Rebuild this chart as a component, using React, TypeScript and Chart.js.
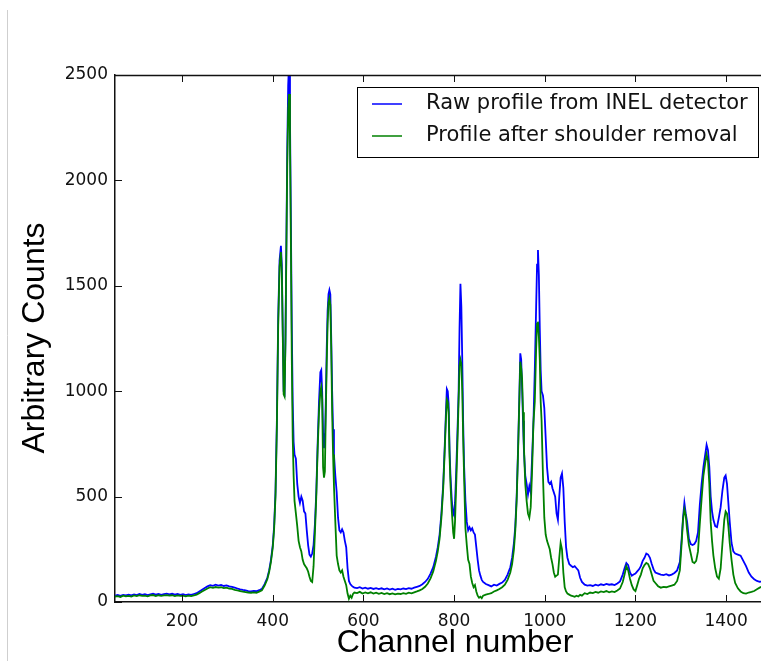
import { useEffect, useRef } from "react";
import { Chart, registerables } from "chart.js";

Chart.register(...registerables);

// Channel numbers (x) shared by both series
const channels = [
  // flat baseline
  52, 58, 64, 70, 76, 82, 88, 94, 100, 106, 112, 118, 124, 130, 136, 142, 148, 154, 160, 166,
  172, 178, 184, 190, 196, 202, 208, 214, 220, 226,
  // small bump
  232, 238, 244, 250, 256, 262, 268, 274, 280, 286, 292, 298, 304, 310, 316, 322, 328, 334, 340, 346,
  352, 358, 364, 370, 376,
  // first peak group
  382, 388, 392, 396, 400, 403, 406, 409, 412, 415, 418, 420, 422, 424, 426, 428, 430, 432, 434, 436,
  438, 440, 442, 444, 446, 448, 451, 454, 457, 460, 463, 466, 469, 472, 475, 478, 481, 484, 487, 490,
  493, 496, 499, 502, 505, 507, 509, 511, 513, 515, 517, 519, 521, 523, 525, 527, 529, 531, 533, 535,
  538, 541, 544, 547, 550, 553, 556, 559, 562, 565, 568, 571, 574, 577, 580,
  // valley
  586, 592, 598, 604, 610, 616, 622, 628, 634, 640, 646, 652, 658, 664, 670, 676, 682, 688, 694, 700,
  706, 712,
  // second group
  718, 724, 730, 736, 742, 748, 754, 760, 764, 768, 772, 776, 779, 782, 784, 786, 788, 790, 792, 795,
  798, 800, 802, 805, 808, 810, 812, 814, 816, 818, 820, 822, 825, 828, 831, 834, 837, 840, 843, 846,
  849, 852, 855, 858, 861, 864,
  // third group
  870, 876, 882, 888, 894, 900, 906, 912, 918, 924, 928, 932, 935, 938, 941, 944, 946, 948, 950, 952,
  954, 957, 960, 963, 966, 969, 972, 975, 978, 981, 983, 985, 987, 989, 991, 993, 996, 999, 1002, 1005,
  1008, 1011, 1014, 1017, 1020, 1023, 1026, 1029, 1032, 1035, 1038, 1041, 1044, 1047, 1050, 1054, 1058, 1062, 1066, 1070,
  1074, 1078, 1082,
  // valley
  1088, 1094, 1100, 1106, 1112, 1118, 1124, 1130, 1136, 1142, 1148, 1154, 1160, 1166,
  // small peaks
  1172, 1176, 1180, 1184, 1188, 1192, 1196, 1200, 1204, 1208, 1212, 1216, 1220, 1224, 1228, 1232, 1236, 1240, 1244, 1250,
  1256, 1262, 1268, 1274, 1280, 1286, 1292, 1298,
  // last group
  1302, 1305, 1308, 1311, 1314, 1318, 1322, 1326, 1330, 1334, 1338, 1342, 1346, 1350, 1354, 1357, 1360, 1363, 1366, 1369,
  1372, 1376, 1380, 1384, 1388, 1392, 1396, 1399, 1402, 1405, 1408, 1412, 1416, 1420, 1426, 1432, 1438, 1444, 1450, 1456,
  1462, 1468, 1474, 1480,
];

// Raw profile from INEL detector (blue)
const rawCounts = [
  30, 33, 29, 34, 31, 35, 32, 36, 33, 38, 34, 37, 33, 36, 39, 35, 38, 34, 37, 40,
  36, 39, 35, 38, 34, 37, 33, 36, 34, 38,
  42, 50, 58, 66, 74, 80, 77, 82, 78, 81, 76, 79, 74, 72, 68, 64, 60, 57, 55, 52,
  50, 53, 51, 56, 62,
  85, 115, 150, 200, 270, 360, 520, 850, 1350, 1620, 1690, 1600, 1300, 1000, 990, 1250, 1700, 2150, 2450, 2560,
  2300, 1800, 1300, 950, 760, 700, 680, 560, 500, 470, 500, 480, 430, 420, 340, 270, 225, 215, 230, 270,
  370, 520, 750, 950, 1090, 1100, 1000, 800, 730, 760, 950, 1200, 1380, 1460, 1480, 1460, 1250, 1000, 820, 700,
  600, 520, 400, 340, 330, 345, 330, 290, 260, 160, 100, 85, 78, 72, 68,
  66, 70, 64, 68, 63, 67, 62, 66, 61, 65, 60, 64, 59, 63, 58, 62, 60, 64, 61, 66,
  63, 68,
  72, 76, 84, 95, 110, 135, 165, 215, 260, 320, 420, 560, 720, 900, 1010, 1000, 940, 720, 600, 480,
  420, 410, 470, 640, 850, 1000, 1300, 1510, 1400, 1150, 850, 650, 480, 380, 340, 355, 340, 350, 330, 320,
  260, 200, 150, 125, 105, 95,
  85, 80, 74, 82, 78, 86, 92, 105, 130, 165, 210, 280, 360, 500, 720, 980, 1180, 1150, 1020, 860,
  720, 600, 560, 510, 550, 520, 680, 850, 1100, 1400, 1600, 1670, 1550, 1300, 1100, 1000, 980, 920, 780, 640,
  570, 560, 570, 540, 520, 500, 420, 390, 500, 590, 610, 540, 380, 260, 210, 180, 172, 165, 170, 160,
  150, 115, 95,
  82, 78, 80, 76, 82, 78, 84, 80, 86, 82, 84, 80, 88, 98,
  130, 160, 185, 175, 140, 125, 130, 135, 145, 155, 170, 195, 210, 230, 225, 210, 180, 155, 140, 135,
  130, 128, 132, 126, 130, 138, 150, 190,
  300, 400, 470, 420, 380, 300, 275, 270, 275, 290, 330, 460, 560, 640, 700, 745, 720, 640, 500, 430,
  390, 360, 355, 400, 450, 530, 590, 600, 560, 470, 380, 280, 240, 230, 225, 220, 195, 170, 140, 120,
  108, 100, 96, 98,
];

// Profile after shoulder removal (green)
const shoulderRemovedCounts = [
  26, 28, 24, 30, 27, 29, 26, 31, 28, 32, 29, 30, 27, 31, 33, 28, 32, 29, 31, 33,
  30, 32, 28, 31, 29, 30, 27, 30, 28, 31,
  35, 42, 50, 57, 64, 70, 67, 71, 68, 70, 66, 68, 64, 62, 58, 55, 52, 49, 47, 45,
  44, 46, 44, 49, 55,
  78, 108, 142, 190, 258, 345, 500, 820, 1310, 1590, 1660, 1560, 1270, 985, 975, 1230, 1660, 2080, 2330, 2410,
  2200, 1700, 1150, 780, 600, 480, 420, 360, 290, 260, 240, 200, 180, 170, 160, 145, 120, 100, 95, 170,
  330, 500, 720, 900, 1000, 1020, 960, 640, 590, 620, 900, 1130, 1320, 1420, 1440, 1410, 1200, 900, 700, 550,
  380, 220, 180, 150, 140, 150, 120, 100, 80, 40, 15, 30, 20, 38, 45,
  42, 48, 40, 45, 41, 46, 40, 44, 39, 43, 38, 42, 37, 41, 36, 40, 38, 42, 39, 44,
  41, 46,
  50, 55, 62, 72, 88, 112, 145, 195, 240, 300, 400, 540, 700, 870, 960, 950, 900, 690, 560, 430,
  330, 300, 380, 580, 800, 960, 1120, 1150, 1130, 1000, 780, 600, 350, 270, 200, 180, 120, 90, 70, 80,
  50, 30, 20, 25, 18, 30,
  35, 38, 42, 50, 55, 62, 70, 82, 105, 140, 180, 250, 340, 480, 700, 960, 1140, 1110, 1060, 900,
  740, 560, 480, 420, 400, 450, 620, 850, 950, 1200, 1320, 1330, 1260, 1150, 950, 860, 600, 400, 320, 290,
  270, 250, 210, 180, 140, 120, 125, 130, 210, 280, 250, 140, 70, 50, 40, 35, 30, 28, 25, 30,
  26, 34, 30,
  42, 38, 45, 42, 48, 44, 50, 47, 52, 46, 50, 47, 55, 64,
  95, 130, 170, 150, 110, 80, 60, 52, 80, 110, 130, 160, 175, 185, 180, 160, 130, 100, 90, 75,
  68, 72, 70, 74, 78, 82, 100, 150,
  280, 390, 440, 410, 340, 270, 230, 190, 185, 195, 240, 370, 490, 600, 660, 700, 670, 560, 380, 290,
  220, 160, 120, 110, 160, 280, 390, 430, 420, 360, 280, 200, 130, 90, 65, 50, 42, 40, 45, 48,
  52, 60, 68, 74,
];

const xTicks = [200, 400, 600, 800, 1000, 1200, 1400];
const yTicks = [0, 500, 1000, 1500, 2000, 2500];
const seriesLabels = ["Raw profile from INEL detector", "Profile after shoulder removal"];
const seriesColors = ["#0000ff", "#008000"];
const xTitle = "Channel number";
const yTitle = "Arbitrary Counts";

export default function App() {
  const ref = useRef<HTMLCanvasElement | null>(null);

  useEffect(() => {
    document.body.style.margin = "0";
    document.body.style.overflow = "hidden";
    const canvas = ref.current;
    if (!canvas) return;

    const decor = {
      id: "decor",
      afterDraw(chart: any) {
        const ctx = chart.ctx as CanvasRenderingContext2D;
        const { left, right, top, bottom } = chart.chartArea;
        const xs = chart.scales.x;
        const ys = chart.scales.y;
        ctx.save();

        // page edge line
        ctx.strokeStyle = "#cfcfcf";
        ctx.lineWidth = 1;
        ctx.beginPath();
        ctx.moveTo(7.5, 10);
        ctx.lineTo(7.5, 661);
        ctx.stroke();

        // top spine
        ctx.strokeStyle = "#111";
        ctx.lineWidth = 1.5;
        ctx.beginPath();
        ctx.moveTo(left, Math.round(top) + 0.5);
        ctx.lineTo(right, Math.round(top) + 0.5);
        ctx.stroke();

        // inward ticks
        const tl = 7;
        ctx.lineWidth = 1;
        ctx.beginPath();
        xTicks.forEach((v) => {
          const px = Math.round(xs.getPixelForValue(v)) + 0.5;
          ctx.moveTo(px, bottom);
          ctx.lineTo(px, bottom - tl);
          ctx.moveTo(px, top);
          ctx.lineTo(px, top + tl);
        });
        yTicks.forEach((v) => {
          const py = Math.round(ys.getPixelForValue(v)) + 0.5;
          ctx.moveTo(left, py);
          ctx.lineTo(left + tl, py);
        });
        ctx.stroke();

        // axis titles
        ctx.fillStyle = "#000";
        ctx.font = "32px 'Liberation Sans', Arial, sans-serif";
        ctx.textAlign = "center";
        ctx.textBaseline = "alphabetic";
        ctx.fillText(xTitle, 455, 652);
        ctx.save();
        ctx.translate(44, 338);
        ctx.rotate(-Math.PI / 2);
        ctx.fillText(yTitle, 0, 0);
        ctx.restore();

        // legend
        const bx = 357.5, by = 87.5, bw = 401, bh = 70;
        ctx.fillStyle = "#fff";
        ctx.fillRect(bx, by, bw, bh);
        ctx.strokeStyle = "#000";
        ctx.lineWidth = 1;
        ctx.strokeRect(bx, by, bw, bh);
        const rows = [104, 136];
        ctx.font = "21px 'DejaVu Sans', sans-serif";
        ctx.textAlign = "left";
        ctx.textBaseline = "middle";
        rows.forEach((ry, i) => {
          ctx.strokeStyle = seriesColors[i];
          ctx.lineWidth = 1.5;
          ctx.beginPath();
          ctx.moveTo(372, ry);
          ctx.lineTo(402, ry);
          ctx.stroke();
          ctx.fillStyle = "#111";
          ctx.fillText(seriesLabels[i], 426, ry);
        });
        ctx.restore();
      },
    };

    const tickFont = { family: "'DejaVu Sans', sans-serif", size: 17 };
    const plain = (v: any) => String(v);

    const chart = new Chart(canvas, {
      type: "line",
      data: {
        datasets: [
          {
            label: seriesLabels[0],
            data: channels.map((c, i) => ({ x: c, y: rawCounts[i] })),
            borderColor: seriesColors[0],
            borderWidth: 1.8,
            pointRadius: 0,
            tension: 0,
            fill: false,
            order: 2,
          },
          {
            label: seriesLabels[1],
            data: channels.map((c, i) => ({ x: c, y: shoulderRemovedCounts[i] })),
            borderColor: seriesColors[1],
            borderWidth: 1.8,
            pointRadius: 0,
            tension: 0,
            fill: false,
            order: 1,
          },
        ],
      },
      options: {
        responsive: false,
        animation: false,
        devicePixelRatio: 1,
        events: [],
        layout: { padding: { top: 75, left: 0, right: 0, bottom: 0 } },
        plugins: {
          legend: { display: false },
          tooltip: { enabled: false },
        },
        scales: {
          x: {
            type: "linear",
            min: 52,
            max: 1477,
            afterBuildTicks: (s: any) => {
              s.ticks = xTicks.map((v) => ({ value: v }));
            },
            afterFit: (s: any) => {
              s.height = 59;
            },
            grid: { display: false, drawTicks: false },
            border: { display: true, color: "#111", width: 1.5 },
            ticks: {
              font: tickFont,
              color: "#111",
              padding: 9,
              maxRotation: 0,
              autoSkip: false,
              callback: plain,
            },
          },
          y: {
            type: "linear",
            min: 0,
            max: 2500,
            afterBuildTicks: (s: any) => {
              s.ticks = yTicks.map((v) => ({ value: v }));
            },
            afterFit: (s: any) => {
              s.width = 115;
            },
            grid: { display: false, drawTicks: false },
            border: { display: true, color: "#111", width: 1.5 },
            ticks: {
              font: tickFont,
              color: "#111",
              padding: 7,
              autoSkip: false,
              callback: plain,
            },
          },
        },
      },
      plugins: [decor],
    });

    return () => chart.destroy();
  }, []);

  return <canvas ref={ref} width={761} height={661} style={{ display: "block" }} />;
}
